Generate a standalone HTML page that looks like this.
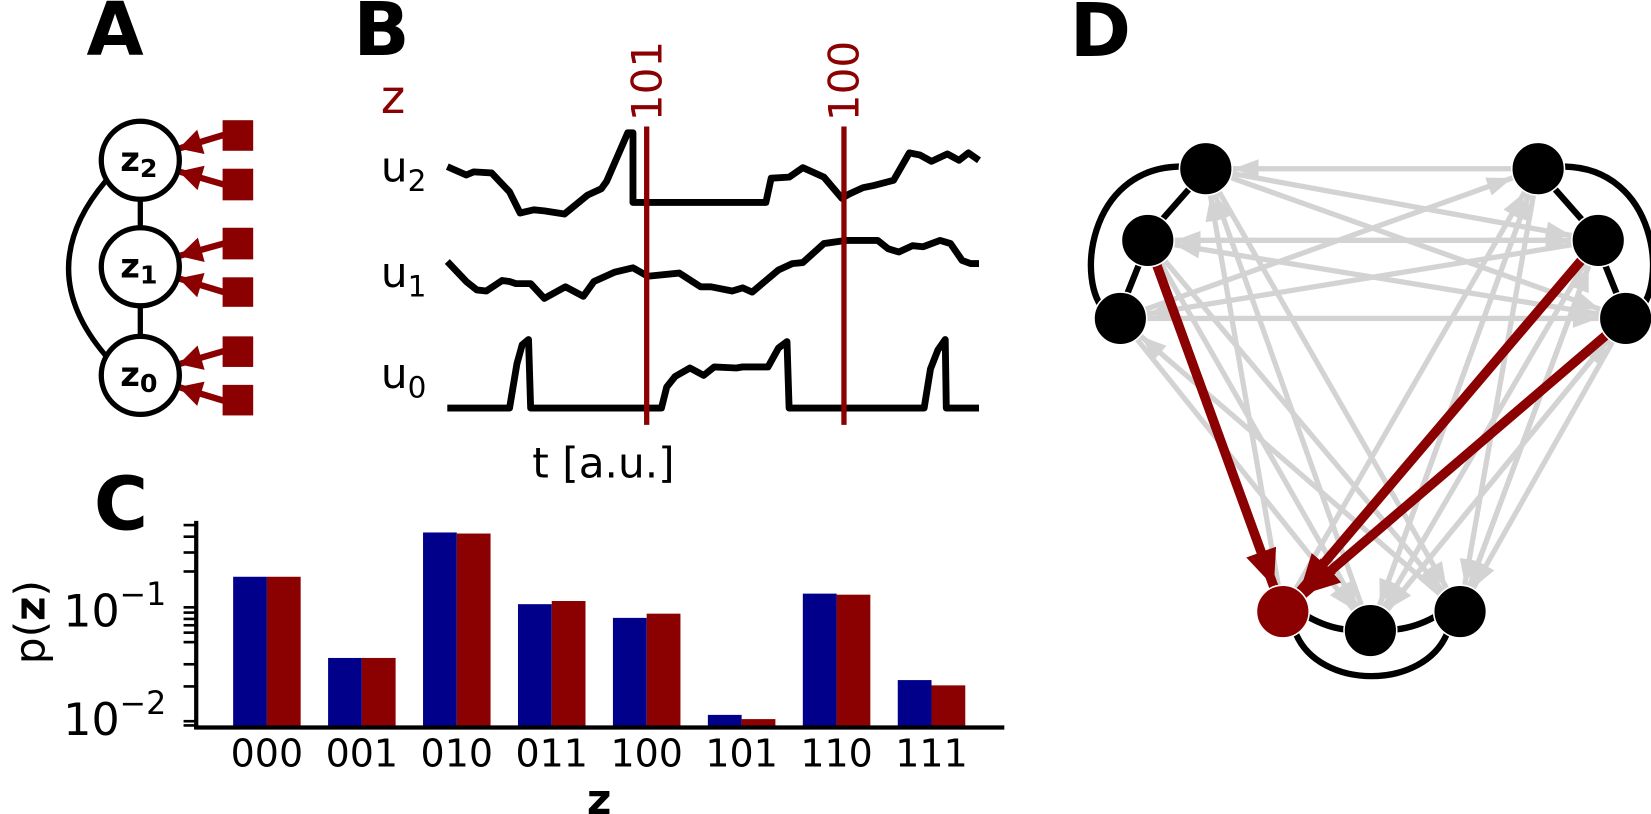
<!DOCTYPE html>
<html><head><meta charset="utf-8"><style>
html,body{margin:0;padding:0;background:#fff;}
svg{display:block;}
text{font-family:"DejaVu Sans","Liberation Sans",sans-serif;}
</style></head><body>
<svg width="1651" height="814" viewBox="0 0 1565 772" preserveAspectRatio="none" xmlns="http://www.w3.org/2000/svg">
<defs>
<marker id="ga" markerUnits="userSpaceOnUse" markerWidth="80" markerHeight="80" refX="50" refY="0" orient="auto" viewBox="-5 -40 80 80" overflow="visible">
<path d="M0,-9 L24,0 L0,9 z" fill="#d3d3d3"/></marker>
<marker id="ra" markerUnits="userSpaceOnUse" markerWidth="100" markerHeight="100" refX="60" refY="0" orient="auto" viewBox="-5 -50 100 100" overflow="visible">
<path d="M0,-15 L35,0 L0,15 z" fill="#8b0000"/></marker>
<marker id="aa" markerUnits="userSpaceOnUse" markerWidth="80" markerHeight="80" refX="60" refY="0" orient="auto" viewBox="-5 -40 80 80" overflow="visible">
<path d="M0,-12 L22,0 L0,12 z" fill="#8b0000"/></marker>
</defs>

<text x="82" y="52" font-size="70" font-weight="bold">A</text>
<text x="335" y="52" font-size="70" font-weight="bold">B</text>
<text x="89" y="502" font-size="70" font-weight="bold">C</text>
<text x="1014" y="53" font-size="70" font-weight="bold">D</text>

<!-- Panel A -->
<path d="M100,172 Q30,255 100,337" fill="none" stroke="#000" stroke-width="5"/>
<line x1="133" y1="152" x2="133" y2="356" stroke="#000" stroke-width="5"/>
<g stroke="#8b0000" stroke-width="6" marker-end="url(#aa)">
<line x1="212" y1="128" x2="133" y2="152"/><line x1="212" y1="175" x2="133" y2="152"/>
<line x1="212" y1="231" x2="133" y2="253"/><line x1="212" y1="277" x2="133" y2="253"/>
<line x1="212" y1="333" x2="133" y2="356"/><line x1="212" y1="380" x2="133" y2="356"/>
</g>
<g fill="#fff" stroke="#000" stroke-width="5">
<circle cx="133" cy="152" r="37"/><circle cx="133" cy="253" r="37"/><circle cx="133" cy="356" r="37"/>
</g>
<g font-family="Liberation Serif,serif" font-weight="bold">
<text x="114" y="162" font-size="32">z<tspan font-size="24" dy="6">2</tspan></text>
<text x="114" y="263" font-size="32">z<tspan font-size="24" dy="6">1</tspan></text>
<text x="114" y="366" font-size="32">z<tspan font-size="24" dy="6">0</tspan></text>
</g>
<g fill="#8b0000">
<rect x="211" y="114" width="29" height="29"/><rect x="211" y="160" width="29" height="30"/>
<rect x="211" y="216" width="29" height="30"/><rect x="211" y="263" width="29" height="28"/>
<rect x="211" y="319" width="29" height="29"/><rect x="211" y="365" width="29" height="29"/>
</g>

<!-- Panel B -->
<text x="361" y="107" font-size="44" fill="#8b0000">z</text>
<text x="361" y="172" font-size="40">u<tspan font-size="28" dy="9">2</tspan></text>
<text x="361" y="272" font-size="40">u<tspan font-size="28" dy="9">1</tspan></text>
<text x="361" y="368" font-size="40">u<tspan font-size="28" dy="9">0</tspan></text>
<g fill="none" stroke="#000" stroke-width="6.5" stroke-linejoin="round">
<polyline points="424,158 442,166 449,163 466,164 483,182 493,202 506,199 516,200 535,203 557,185 570,179 575,172 595,126 600,126 600,192 726,192 731,169 748,168 761,159 781,168 798,188 805,184 818,178 828,176 847,171 862,145 872,147 883,153 898,146 909,152 918,145 928,152"/>
<polyline points="424,248 442,267 452,275 461,276 476,266 483,267 489,269 503,269 516,283 536,272 553,281 563,267 583,258 600,254 614,262 644,259 664,272 674,272 694,276 704,273 713,277 738,256 751,250 761,249 781,231 802,228 832,228 842,236 852,239 865,233 875,234 891,228 901,231 912,247 920,250 928,250"/>
<polyline points="424,387 483,387 490,345 495,327 501,322 503,387 627,387 632,367 640,357 654,349 667,356 677,348 698,349 704,348 728,348 738,330 746,324 748,387 876,387 882,350 889,332 896,322 897,387 928,387"/>
</g>
<g stroke="#8b0000" stroke-width="5">
<line x1="613" y1="120" x2="613" y2="403"/><line x1="800" y1="120" x2="800" y2="403"/>
</g>
<text transform="translate(627,115) rotate(-90)" font-size="40" fill="#8b0000">101</text>
<text transform="translate(814,115) rotate(-90)" font-size="40" fill="#8b0000">100</text>
<text x="572" y="453" font-size="40" text-anchor="middle">t [a.u.]</text>

<!-- Panel C -->
<g fill="#00008b">
<rect x="221" y="547" width="32" height="143"/><rect x="311" y="624" width="32" height="66"/>
<rect x="401" y="505" width="32" height="185"/><rect x="491" y="573" width="32" height="117"/>
<rect x="581" y="586" width="32" height="104"/><rect x="671" y="678" width="32" height="12"/>
<rect x="761" y="563" width="32" height="127"/><rect x="851" y="645" width="32" height="45"/>
</g>
<g fill="#8b0000">
<rect x="253" y="547" width="32" height="143"/><rect x="343" y="624" width="32" height="66"/>
<rect x="433" y="506" width="32" height="184"/><rect x="523" y="570" width="32" height="120"/>
<rect x="613" y="582" width="32" height="108"/><rect x="703" y="682" width="32" height="8"/>
<rect x="793" y="564" width="32" height="126"/><rect x="883" y="650" width="32" height="40"/>
</g>
<g stroke="#000" stroke-width="4">
<line x1="186" y1="494" x2="186" y2="691"/><line x1="184" y1="690" x2="952" y2="690"/>
</g>
<g stroke="#000" stroke-width="2.5">
<line x1="174" y1="498" x2="186" y2="498"/><line x1="174" y1="509" x2="186" y2="509"/>
<line x1="174" y1="524" x2="186" y2="524"/><line x1="174" y1="542" x2="186" y2="542"/>
<line x1="174" y1="576" x2="186" y2="576"/><line x1="174" y1="581" x2="186" y2="581"/>
<line x1="174" y1="587" x2="186" y2="587"/><line x1="174" y1="593" x2="186" y2="593"/>
<line x1="174" y1="600" x2="186" y2="600"/><line x1="174" y1="609" x2="186" y2="609"/>
<line x1="174" y1="630" x2="186" y2="630"/><line x1="174" y1="651" x2="186" y2="651"/>
<line x1="174" y1="684" x2="186" y2="684"/><line x1="174" y1="688" x2="186" y2="688"/>
</g>
<text x="60" y="594" font-size="42">10<tspan font-size="30" dy="-20">−1</tspan></text>
<text x="60" y="697" font-size="42">10<tspan font-size="30" dy="-20">−2</tspan></text>
<text transform="translate(42,590) rotate(-90)" font-size="40" text-anchor="middle">p(<tspan font-weight="bold">z</tspan>)</text>
<g font-size="36" text-anchor="middle">
<text x="253" y="727">000</text><text x="343" y="727">001</text><text x="433" y="727">010</text><text x="523" y="727">011</text>
<text x="613" y="727">100</text><text x="703" y="727">101</text><text x="793" y="727">110</text><text x="883" y="727">111</text>
</g>
<text x="568" y="772" font-size="40" font-weight="bold" text-anchor="middle">z</text>

<!-- Panel D -->
<g fill="none" stroke="#000" stroke-width="6">
<path d="M1118,158 C1030,160 1020,270 1048,295"/>
<path d="M1130,176 L1100,210"/>
<path d="M1080,250 L1068,280"/>
<path d="M1483,158 C1571,160 1581,270 1553,295"/>
<path d="M1471,176 L1501,210"/>
<path d="M1521,250 L1533,280"/>
<path d="M1240,585 Q1258,595 1275,597"/>
<path d="M1323,597 Q1342,595 1360,585"/>
<path d="M1228,600 C1250,655 1350,655 1372,600"/>
</g>
<g stroke="#d3d3d3" stroke-width="5" marker-end="url(#ga)">
<line x1="1458" y1="160" x2="1143" y2="160"/>
<line x1="1143" y1="160" x2="1515" y2="228"/>
<line x1="1143" y1="160" x2="1541" y2="302"/>
<line x1="1062" y1="302" x2="1458" y2="160"/>
<line x1="1088" y1="228" x2="1515" y2="228"/>
<line x1="1515" y1="228" x2="1088" y2="228"/>
<line x1="1541" y1="302" x2="1088" y2="228"/>
<line x1="1515" y1="228" x2="1062" y2="302"/>
<line x1="1062" y1="302" x2="1541" y2="302"/>
<line x1="1299" y1="598" x2="1143" y2="160"/>
<line x1="1216" y1="580" x2="1143" y2="160"/>
<line x1="1384" y1="580" x2="1062" y2="302"/>
<line x1="1088" y1="228" x2="1299" y2="598"/>
<line x1="1088" y1="228" x2="1384" y2="580"/>
<line x1="1062" y1="302" x2="1299" y2="598"/>
<line x1="1143" y1="160" x2="1384" y2="580"/>
<line x1="1216" y1="580" x2="1458" y2="160"/>
<line x1="1299" y1="598" x2="1458" y2="160"/>
<line x1="1458" y1="160" x2="1384" y2="580"/>
<line x1="1458" y1="160" x2="1299" y2="598"/>
<line x1="1541" y1="302" x2="1384" y2="580"/>
<line x1="1515" y1="228" x2="1384" y2="580"/>
<line x1="1515" y1="228" x2="1299" y2="598"/>
<line x1="1384" y1="580" x2="1515" y2="228"/>
<line x1="1541" y1="302" x2="1299" y2="598"/>
<line x1="1299" y1="598" x2="1541" y2="302"/>
</g>
<g stroke="#8b0000" stroke-width="9" marker-end="url(#ra)">
<line x1="1088" y1="228" x2="1216" y2="580"/>
<line x1="1515" y1="228" x2="1216" y2="580"/>
<line x1="1541" y1="302" x2="1216" y2="580"/>
</g>
<g stroke="#fff" stroke-width="1.5">
<circle cx="1143" cy="160" r="25" fill="#000"/>
<circle cx="1088" cy="228" r="25" fill="#000"/>
<circle cx="1062" cy="302" r="25" fill="#000"/>
<circle cx="1458" cy="160" r="25" fill="#000"/>
<circle cx="1515" cy="228" r="25" fill="#000"/>
<circle cx="1541" cy="302" r="25" fill="#000"/>
<circle cx="1216" cy="580" r="25" fill="#8b0000"/>
<circle cx="1299" cy="598" r="25" fill="#000"/>
<circle cx="1384" cy="580" r="25" fill="#000"/>
</g>
</svg>
</body></html>
